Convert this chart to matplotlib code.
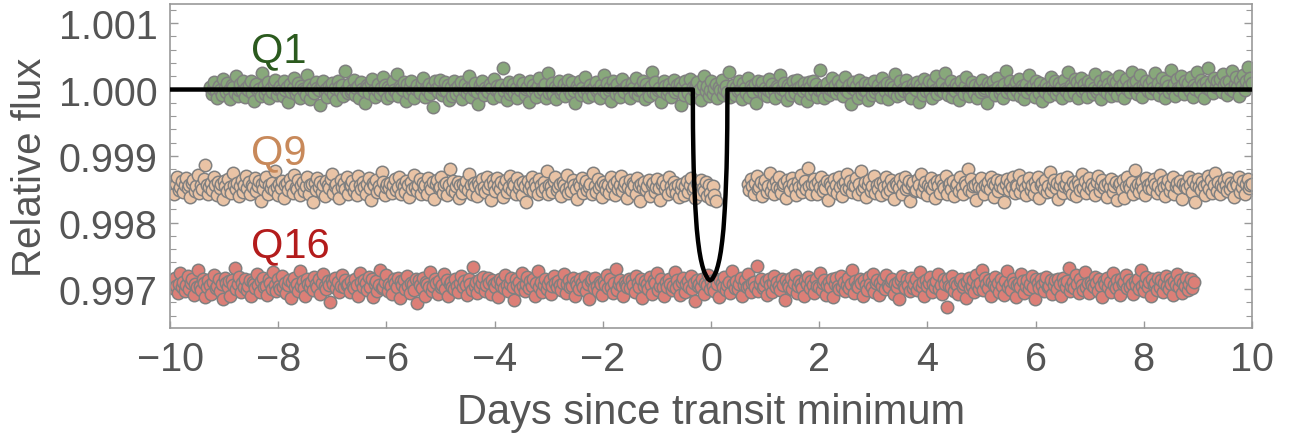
import numpy as np
import matplotlib
matplotlib.use("Agg")
import matplotlib.pyplot as plt
from matplotlib.ticker import MultipleLocator, FormatStrFormatter

plt.rcParams['font.family'] = ['Liberation Sans', 'DejaVu Sans']

# Residuals, one per cadence (see resid_unit below)
q1_resid = [
    3, -5, 1, 8, -2, -9, 4, 0, -6, 12, 2, -3, 7, -1, -11, 5, 3, -4, 15, -7, 0, 6, -2, 9,
    -8, 2, -1, 5, 10, -4, -13, 3, 6, -2, 1, -7, 18, 4, -5, 0, 8, -10, 2, -3, 7, 11, -6, 1,
    4, -1, -7, 9, 0, 3, -14, 6, -3, 2, 13, -5, -1, 7, -9, 4, 1, -2, -6, 16, 5, -11, 0, 3,
    -4, 8, 2, -1, -17, 6, 10, -3, 1, -8, 4, 0, 7, -5, 2, -12, 9, 3, -2, 5, -7, 21, -1, -4,
    6, -3, 0, 11, -6, 2, 4, -9, 8, 1, -2, -15, 5, 3, -4, 7, 12, -1, -8, 0, 6, -5, 2, 14,
    -2, 5, -10, 3, 1, -6, 9, 0, -3, 17, -7, 4, 2, -1, 8, -13, 6, -4, 3, 10, -2, -9, 1, 5,
    0, -4, 7, 13, -8, 2, -1, 6, -5, 3, -19, 9, 1, -3, 4, 11, -6, 0, 8, -2, 5, -12, 3, -7,
    10, 1, -5, 4, -2, 8, -11, 0, 6, -4, 2, 15, -8, 3, -1, 7, -3, -16, 5, 1, 9, -6, 2, -1,
    -3, 6, 2, -9, 12, -1, 4, 0, -7, 5, 24, -2, 3, -12, 8, -5, 1, 6, -4, 2, -10, 11, 0, 4,
    7, -6, 1, 3, -14, 9, -2, 5, 0, -8, 4, 13, -3, 2, -1, 6, -9, 18, -4, 1, 7, -5, 3, -11,
    2, 9, -4, 0, 6, -7, 3, 11, -1, -5, 8, -2, -15, 4, 1, 10, -6, 2, -3, 14, 0, -8, 5, -1,
    -6, 3, 8, -2, 1, -10, 5, 0, 16, -4, 7, -1, 3, -13, 9, 2, -5, 6, -2, -8, 12, 1, -3, 4,
    5, -1, -9, 7, 2, -4, 13, -6, 0, 3, -2, 9, -11, 6, 1, -7, 4, 20, -3, 8, -5, 0, 2, -14,
    -2, 10, 4, -5, 0, 6, -8, 2, 11, -3, 5, -1, 7, -17, 3, -6, 9, 1, -4, 12, -9, 3, 0, 6,
    8, -3, 1, -12, 5, 15, -2, 4, -7, 0, 9, -5, 2, 6, -10, 3, -1, 11, -6, 1, 4, -3, 19, -8,
    1, 5, -6, 3, -2, 9, 0, -11, 7, 2, -4, 13, -8, 4, 1, -3, 6, -15, 10, -1, 3, 8, -5, 2,
    -7, 0, 12, -3, 6, -1, -9, 4, 2, 16, -5, 1, 7, -2, -12, 5, 3, -6, 9, 0, -4, 11, 2, -9,
    4, -2, 7, 1, -13, 8, 3, -5, 10, -1, 6, -8, 0, 22, -3, 4, -10, 2, 7, -6, 1, 13, -2, 5,
    -4, 9, -1, 3, 6, -7, 14, 0, -3, 5, -16, 2, 8, -1, 4, -9, 11, 3, -5, 0, 7, -2, -12, 6,
    2, -6, 10, -3, 1, 5, -1, -8, 13, 4, -2, 7, -11, 0, 6, 3, -4, 17, -7, 2, 9, -5, 1, -2,
    11, 3, -4, 0, -9, 6, 2, -1, 8, -14, 5, 1, -6, 12, -2, 4, 9, -3, -10, 7, 0, 15, -5, 3,
    -1, 7, -3, 18, 2, -6, 4, 9, -8, 1, -2, 6, 3, -12, 10, 0, -5, 4, 14, -1, -7, 2, 8, -4,
    5, -9, 1, 6, -3, 11, -1, 2, -15, 7, 4, -2, 9, 0, -6, 13, 3, -4, 1, -10, 6, 21, -3, 2,
    9, 0, -5, 3, 8, -2, 12, -7, 4, 1, -11, 6, -3, 16, 2, -1, 5, -8, 10, 3, -4, 7, -13, 1,
    -3, 6, 2, -7, 14, 4, -1, 9, -5, 0, 7, 3, -9, 11, 1, -2, 19, -6, 5, 2, -4, 12, 8, -10,
    4, 13, -2, 6, -1, -8, 10, 3, 7, -5, 2, 17, -3, 1, 9, -11, 5, 0, 14, -4, 6, 2, -7, 11,
    0, 8, -6, 15, 3, -2, 6, -9, 12, 1, 4, -3, 20, 7, -1, 10, -5, 2, 16, -8, 5, 3, 9, -2,
    6, -4, 11, 2, 18, -1, 7, -6, 3, 13, 0, -10, 9, 4, -3, 22, 1, 6, -7, 12, 2, -1, 15, 5,
    -5, 10, 3, 7, -2, 14, -8, 5, 1, 19, 4, -3, 11, 6, -9, 8, 2, 24, -1, 7, -4, 13, 3, 9,
    2, 12, -3, 17, 5, 8, -6, 10, 1, 21, -2, 6, 14, 3, -7, 11, 4, 16, -1, 9, 25, 5, 13, 7,
]

# Q9 before the data gap
q9a_resid = [
    -2, 6, 1, -8, 4, 12, -3, 0, 7, -5, 2, 10, -1, 3, -11, 5, 8, -4, 1, 14, -6, 2, -2, 9, 25,
    3, -7, 0, 5, -3, 11, 2, -9, 6, -1, 4, -13, 7, 1, -4, 9, 0, -6, 16, 3, -2, 5, -10, 1, 8,
    -5, 2, 13, -1, 6, -8, 3, 0, 10, -4, 1, 7, -15, 4, -2, 6, 11, -7, 2, -1, 5, -3, 18, 0, -9,
    4, -1, 7, -12, 2, 5, -3, 9, 1, -6, 14, 0, -2, 8, -9, 3, 6, -4, 1, 12, -7, 2, 4, -16, 5,
    -3, 10, 0, 6, -5, 2, -10, 7, 3, -1, 9, 15, -6, 1, 4, -3, -12, 8, 0, 5, -2, 11, -8, 3, 2,
    7, -4, 1, -9, 13, 3, -2, 6, 0, -7, 4, 10, -1, -14, 5, 2, 8, -5, 1, -3, 17, 6, -9, 0, 4,
    -1, 5, -6, 2, 9, -3, 0, 12, -8, 4, 1, -5, 7, 3, -11, 6, -2, 14, 0, -4, 2, 9, -7, 5, -1,
    3, -8, 10, 1, -2, 6, -13, 4, 8, -1, 0, 11, -6, 3, 5, -9, 2, 20, -3, 7, -5, 1, 6, -12, 2,
    -6, 4, 0, 7, -3, 15, 2, -8, 5, 1, -10, 6, 3, -2, 9, 0, -5, 12, -1, 4, -14, 8, 2, -4, 10,
    1, -2, 6, -11, 3, 8, -5, 0, 13, -3, 5, 2, -7, 10, -1, 4, -9, 6, 1, -16, 7, -2, 3, 11, -4,
    5, 0, -7, 9, 2, -4, 6, -1, 18, -8, 3, 1, -5, 7, 12, -3, 0, 4, -10, 6, 2, -2, 14, -6, 1,
    -4, 8, 3, -2, -13, 5, 1, 10, -6, 2, 7, -3, 0, 4, -8, 16, 1, -5, 9, -1, 3, -11, 6, 2, -3,
    2, -6, 11, 0, 4, -9, 7, -2, 3, 13, -4, 1, 6, -12, 0, 8, -3, 5, 2, -7, 10, 1, -15, 4, -1,
    6, -3, 1, 8, -10, 2, 5, -5, 0, 9, -1, -14, 4, 7, -2, 3, -8, 12, 1, -4, 6, 0, -6, 3, -11,
    -2, 4, -9, 1, 7, -5, 3, 10, -3, 0, -12, 5, 2, -7, 8, -1, -4, 6, -10, 2, -6, -13, 1, -9, -15,
]

# Q9 after the data gap
q9b_resid = [
    4, -3, 9, 1, -7, 5, 13, -2, 0, 6, -10, 3, 8, -5, 1, 16, -4, 2, -8, 7, 0, 11, -1,
    -6, 2, 5, -12, 8, 1, -3, 10, 4, -1, -9, 6, 0, 14, -5, 3, 7, -2, 22, 1, -7, 4, 9,
    2, -8, 6, 0, 12, -4, 3, -1, 7, -14, 5, 1, -3, 9, 2, -6, 11, 0, -10, 4, 6, -2, 15,
    -1, 7, -5, 3, 1, 10, -8, 4, 18, -3, 0, 6, -11, 2, 8, -4, 1, 13, -6, 3, -2, 5, -9,
    6, 0, 11, -6, 2, -3, 8, 1, -13, 5, 3, -1, 9, -7, 4, 12, -2, 0, 7, -15, 2, 6, -4,
    -3, 9, 2, 15, -5, 1, 6, -9, 3, 0, 10, -2, 4, -12, 7, 1, -6, 8, 3, -1, 13, -8, 2,
    5, -2, 7, -10, 1, 4, -4, 12, 0, -7, 6, 2, 20, -3, 9, -5, 1, 3, -14, 6, 0, 10, -1,
    -8, 3, 0, 6, -2, 11, 5, -11, 2, 8, -4, 1, 7, -1, -16, 4, 9, -3, 5, 0, 12, -6, 3,
    1, 14, -5, 3, 7, -1, -9, 4, 10, -3, 2, -7, 6, 0, 11, -12, 3, 5, -2, 8, -5, 1, 17,
    -4, 2, 8, -1, 5, -13, 3, 9, -6, 1, 4, 12, -2, 0, -8, 6, 2, -10, 7, 3, -3, 15, -1,
    7, -6, 1, 10, -2, 4, 0, -9, 6, 13, -4, 2, 8, -1, 3, -11, 5, 0, 9, -5, 1, 6, -14,
    2, 5, -3, 8, -12, 1, 11, 3, -1, 6, -7, 19, 0, 4, -5, 2, 7, -2, -9, 10, 3, -1, 5,
    -2, 9, 4, -6, 1, 14, -3, 6, 0, -10, 3, 8, -4, 2, 12, -8, 1, 5, -1, 7, -13, 4, 0,
    5, -1, 11, 2, -5, 7, -16, 3, 9, 0, -3, 6, 1, -9, 4, 13, -2, 8, -6, 2, 16, -4, 6,
    -7, 3, 0, 8, 2, -4, 10, -2, 5, 1, -11, 6, 3, 12, -5, 0, 7, -8, 4, 9, -1, 2, 4,
]

q16_resid = [
    5, -3, 9, 0, -8, 2, 14, -1, 4, -6, 1, 11, -4, 3, 7, -10, 2, -2, 17, 0, -5, 8, 3, -13,
    -2, 6, 1, -9, 4, 12, -3, 0, 7, -6, 2, -15, 9, 3, -1, 5, -11, 6, 1, 20, -4, 2, 10, -7,
    3, -1, 8, -5, 0, 6, -12, 4, 2, -3, 13, 1, -7, 5, 9, -2, 0, -10, 7, 3, -4, 15, 1, -6,
    7, 0, -4, 11, -2, 3, -8, 1, 6, -14, 4, 9, -1, 2, -6, 16, 0, 5, -3, -11, 8, 2, -1, 4,
    -5, 10, 2, -1, 7, -9, 3, 13, 0, -4, 5, 1, -18, 6, 2, 9, -3, 4, -7, 0, 12, -2, 6, 1,
    2, -7, 5, 0, -3, 8, 1, -11, 14, 4, -2, 6, 3, -5, 10, -1, 7, -13, 2, 5, -6, 1, 18, -3,
    -1, 4, 12, -6, 2, 0, -9, 7, 3, -2, 9, -14, 5, 1, 6, -4, 11, 0, -8, 3, 2, -5, 8, -19,
    6, 1, -3, 9, -11, 4, 2, -1, 15, -6, 0, 7, 3, -9, 5, -2, 1, 13, -4, 6, -12, 2, 4, -1,
    -4, 8, 0, -7, 3, 11, -2, 5, 1, -10, 7, 2, -5, 21, 0, 4, -8, 6, -1, 3, 10, -6, 1, 9,
    3, -9, 6, 2, -1, 4, -13, 8, 0, 5, -3, 12, 1, -6, 2, 9, -2, -16, 7, 1, 4, -4, 14, 0,
    -6, 2, 10, -3, 5, 0, 7, -11, 3, 16, -1, 4, -7, 1, 8, -4, 2, 6, -9, 0, 11, 3, -2, 5,
    1, -5, 3, 13, -8, 2, 6, -2, 0, 9, -12, 4, 1, -4, 7, 3, -1, 10, -6, 2, -15, 5, 8, -3,
    9, 0, -6, 4, 2, -10, 5, 1, 12, -3, 7, -1, -8, 3, 19, -5, 2, 6, 0, -11, 4, 1, -2, 7,
    -3, 6, 1, -7, 11, 3, -2, 8, -14, 0, 5, 2, -4, 10, 1, -9, 6, 3, 14, -5, 0, 7, -1, -12,
    4, -1, 8, 2, -5, 0, 15, -3, 6, 1, -10, 4, 9, -7, 2, 5, -2, 11, -4, 3, -17, 6, 0, 2,
    -2, 7, -9, 3, 1, 12, -4, 5, 0, -6, 8, 2, -13, 6, 3, -1, 10, -5, 1, 4, -8, 16, 2, -3,
    5, -4, 2, 9, -11, 1, 6, -2, 13, 0, -7, 3, 4, -1, 22, -6, 2, 8, -3, 0, 5, -10, 7, 1,
    -7, 3, 11, -2, 4, 0, -5, 8, 1, -16, 6, 2, -1, 9, -4, 3, 12, -8, 0, 5, 2, -3, -11, 6,
    2, 10, -3, 5, 1, -8, 7, 0, -2, 14, -5, 3, 6, -10, 1, 4, -1, 8, -13, 2, 9, 0, -4, 11,
    -1, 4, -6, 1, 9, -3, 2, 17, -8, 5, 0, -2, 7, 3, -12, 6, 1, -5, 10, 2, -1, 13, -7, 3,
    6, -10, 3, 0, 7, -4, 12, 1, -2, 5, 8, -9, 2, -1, 4, -15, 6, 11, 0, -3, 7, 1, -6, 9,
    -3, 2, 8, -5, 1, 15, -1, 4, -11, 6, 0, 3, 10, -7, 2, -2, 5, 13, -4, 1, -9, 7, 2, -24,
    7, 0, -2, 11, -6, 3, 1, -9, 5, 8, -1, 2, -14, 4, 9, -3, 0, 6, -7, 12, 1, -4, 3, 18,
    -5, 9, 2, -3, 6, -12, 4, 1, 10, -2, 3, -7, 7, 0, -10, 5, 16, -1, 2, -5, 8, 3, -13, 1,
    3, -2, 13, 5, -8, 0, 6, -4, 2, 11, -1, -15, 8, 3, -3, 7, 1, -6, 4, 10, -2, 0, 6, -9,
    1, 6, -4, 8, 2, -11, 9, 3, -1, 5, 20, -6, 0, 4, -3, 12, 2, -8, 7, 1, -5, 15, -2, 3,
    -8, 4, 1, -2, 10, 3, -6, 7, 0, -13, 5, 2, 9, -1, 4, -7, 14, 1, -3, 6, 0, -10, 8, 2,
    4, 12, -3, 6, -1, 2, -9, 5, 1, 8, -4, 17, 0, -6, 3, 10, -2, 4, -12, 7, 1, 3, -5, 9,
    -1, 6, -7, 3, 11, 0, -4, 8, 2, -10, 5, 1, 13, -2, 6, -8, 3, 0, 9, -5, 2, 7, -3, 4,
]

# Relative flux per residual unit
resid_unit = 1.35e-5

# Time spans (days) and baseline flux of each quarter
q1_span = (-9.26, 10.0)
q9a_span = (-10.0, 0.09)
q9b_span = (0.68, 10.0)
q16_span = (-9.97, 8.92)
q1_level = 1.00000
q9_level = 0.99853
q16_level = 0.99705

# Transit model curve
model_t = [-10.0, -0.336, -0.333, -0.326, -0.320, -0.312, -0.301, -0.288, -0.272, -0.262,
           -0.240, -0.214, -0.189, -0.160, -0.128, -0.090, -0.054, -0.016, 0.022, 0.058,
           0.096, 0.128, 0.157, 0.182, 0.208, 0.230, 0.240, 0.256, 0.269, 0.280, 0.288,
           0.294, 0.301, 0.304, 10.0]
model_f = [1.0, 1.0, 0.999424, 0.999050, 0.998819, 0.998646, 0.998416, 0.998214, 0.998013,
           0.997898, 0.997725, 0.997566, 0.997451, 0.997350, 0.997264, 0.997200, 0.997149,
           0.997130, 0.997149, 0.997200, 0.997264, 0.997350, 0.997451, 0.997566, 0.997725,
           0.997898, 0.998013, 0.998214, 0.998416, 0.998646, 0.998819, 0.999050, 0.999424,
           1.0, 1.0]

labels = ["Q1", "Q9", "Q16"]
fills = ["#88a87b", "#e9c3a5", "#dc7f77"]
text_colors = ["#2b5a1e", "#c8895a", "#b31c1c"]
label_pos = [(-8.50, 1.000590), (-8.50, 0.999060), (-8.50, 0.997660)]


def series(span, level, resid):
    t = np.linspace(span[0], span[1], len(resid))
    return t, level + np.array(resid) * resid_unit


fig = plt.figure(figsize=(12.94, 4.39), dpi=100)
ax = fig.add_axes([0.1314, 0.2506, 0.8361, 0.738])

sets = [
    [series(q1_span, q1_level, q1_resid)],
    [series(q9a_span, q9_level, q9a_resid), series(q9b_span, q9_level, q9b_resid)],
    [series(q16_span, q16_level, q16_resid)],
]
for parts, fc in zip(sets, fills):
    for t, f in parts:
        ax.scatter(t, f, s=80, facecolor=fc, edgecolor="#808080", linewidths=1.1, zorder=2)

ax.plot(model_t, model_f, color="black", lw=3.2, zorder=3, solid_joinstyle="round")

for lab, (x, y), c in zip(labels, label_pos, text_colors):
    ax.text(x, y, lab, color=c, fontsize=30, ha="left", va="center", zorder=4)

ax.set_xlim(-10, 10)
ax.set_ylim(0.996414, 1.001286)
ax.xaxis.set_major_locator(MultipleLocator(2))
ax.yaxis.set_major_locator(MultipleLocator(0.001))
ax.yaxis.set_minor_locator(MultipleLocator(0.0002))
ax.yaxis.set_major_formatter(FormatStrFormatter("%.3f"))
ax.xaxis.set_major_formatter(plt.FuncFormatter(lambda v, p: f"{v:.0f}".replace("-", "\u2212")))

ax.tick_params(axis="both", which="both", direction="in", colors="#999999",
               labelcolor="#555555", labelsize=28.5)
ax.tick_params(axis="y", which="both", left=True, right=True)
ax.tick_params(axis="y", which="major", length=6, width=1, pad=9)
ax.tick_params(axis="y", which="minor", length=4, width=0.8)
ax.tick_params(axis="x", which="major", top=False, length=5, width=1, pad=9)
for s in ax.spines.values():
    s.set_color("#999999")
    s.set_linewidth(1.2)

ax.set_xlabel("Days since transit minimum", fontsize=30, color="#555555", labelpad=10)
ax.set_ylabel("Relative flux", fontsize=29, color="#555555", labelpad=7)

fig.savefig("out.png", dpi=100)
